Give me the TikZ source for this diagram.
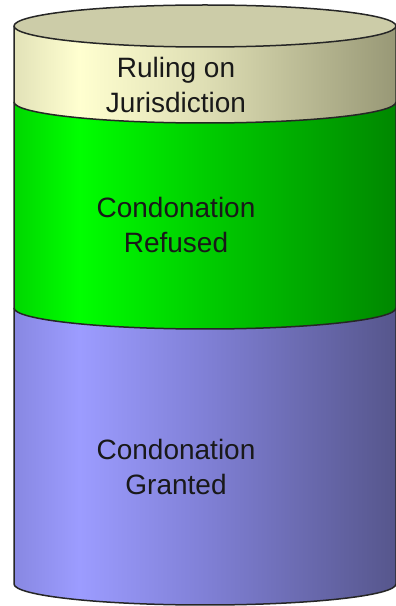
\documentclass[tikz,border=0pt]{standalone}
\usepackage{fontspec}
\setmainfont{Liberation Sans}
\definecolor{cr0}{RGB}{226,226,184}
\definecolor{cr1}{RGB}{255,255,208}
\definecolor{cr2}{RGB}{222,222,180}
\definecolor{cr3}{RGB}{152,152,118}
\definecolor{gr0}{RGB}{0,215,0}
\definecolor{gr1}{RGB}{0,255,0}
\definecolor{gr2}{RGB}{0,205,0}
\definecolor{gr3}{RGB}{0,135,0}
\definecolor{bl0}{RGB}{136,136,226}
\definecolor{bl1}{RGB}{156,156,255}
\definecolor{bl2}{RGB}{128,128,214}
\definecolor{bl3}{RGB}{86,86,140}
\definecolor{topc}{RGB}{204,204,168}
\pgfdeclarehorizontalshading{creamsh}{100bp}{color(0bp)=(cr0); color(25bp)=(cr0); color(33.5bp)=(cr1); color(50bp)=(cr2); color(75bp)=(cr3); color(100bp)=(cr3)}
\pgfdeclarehorizontalshading{greensh}{100bp}{color(0bp)=(gr0); color(25bp)=(gr0); color(33.5bp)=(gr1); color(50bp)=(gr2); color(75bp)=(gr3); color(100bp)=(gr3)}
\pgfdeclarehorizontalshading{bluesh}{100bp}{color(0bp)=(bl0); color(25bp)=(bl0); color(33.5bp)=(bl1); color(50bp)=(bl2); color(75bp)=(bl3); color(100bp)=(bl3)}
\begin{document}
\begin{tikzpicture}[x=1pt,y=1pt,
  edge/.style={draw=black!85, line width=1.5pt, line join=round},
  lbl/.style={font=\fontsize{28}{35}\selectfont, align=center, text=black!90, inner sep=0pt}]
\useasboundingbox (0,0) rectangle (396,606);
\clip (0,0) rectangle (396,606);
% bottom band
\shade[shading=bluesh] (14,298) -- (14,22) arc[start angle=180,end angle=360,x radius=191,y radius=21] -- (396,298) -- cycle;
\draw[edge] (14,298) -- (14,22) arc[start angle=180,end angle=360,x radius=191,y radius=21] -- (396,298);
% middle band
\shade[shading=greensh] (14,504) -- (14,298) arc[start angle=180,end angle=360,x radius=191,y radius=21] -- (396,504) -- cycle;
\draw[edge] (14,504) -- (14,298) arc[start angle=180,end angle=360,x radius=191,y radius=21] -- (396,504);
% top band
\shade[shading=creamsh] (14,580) -- (14,504) arc[start angle=180,end angle=360,x radius=191,y radius=21] -- (396,580) -- cycle;
\draw[edge] (14,580) -- (14,504) arc[start angle=180,end angle=360,x radius=191,y radius=21] -- (396,580);
% top face
\fill[topc] (205,580) ellipse[x radius=191,y radius=21];
\draw[edge] (205,580) ellipse[x radius=191,y radius=21];
% labels
\node[lbl] (ruling) at (176,521.5) {Ruling on\\Jurisdiction};
\node[lbl] (refused) at (176,381.5) {Condonation\\Refused};
\node[lbl] (granted) at (176,139.5) {Condonation\\Granted};
\end{tikzpicture}
\end{document}
